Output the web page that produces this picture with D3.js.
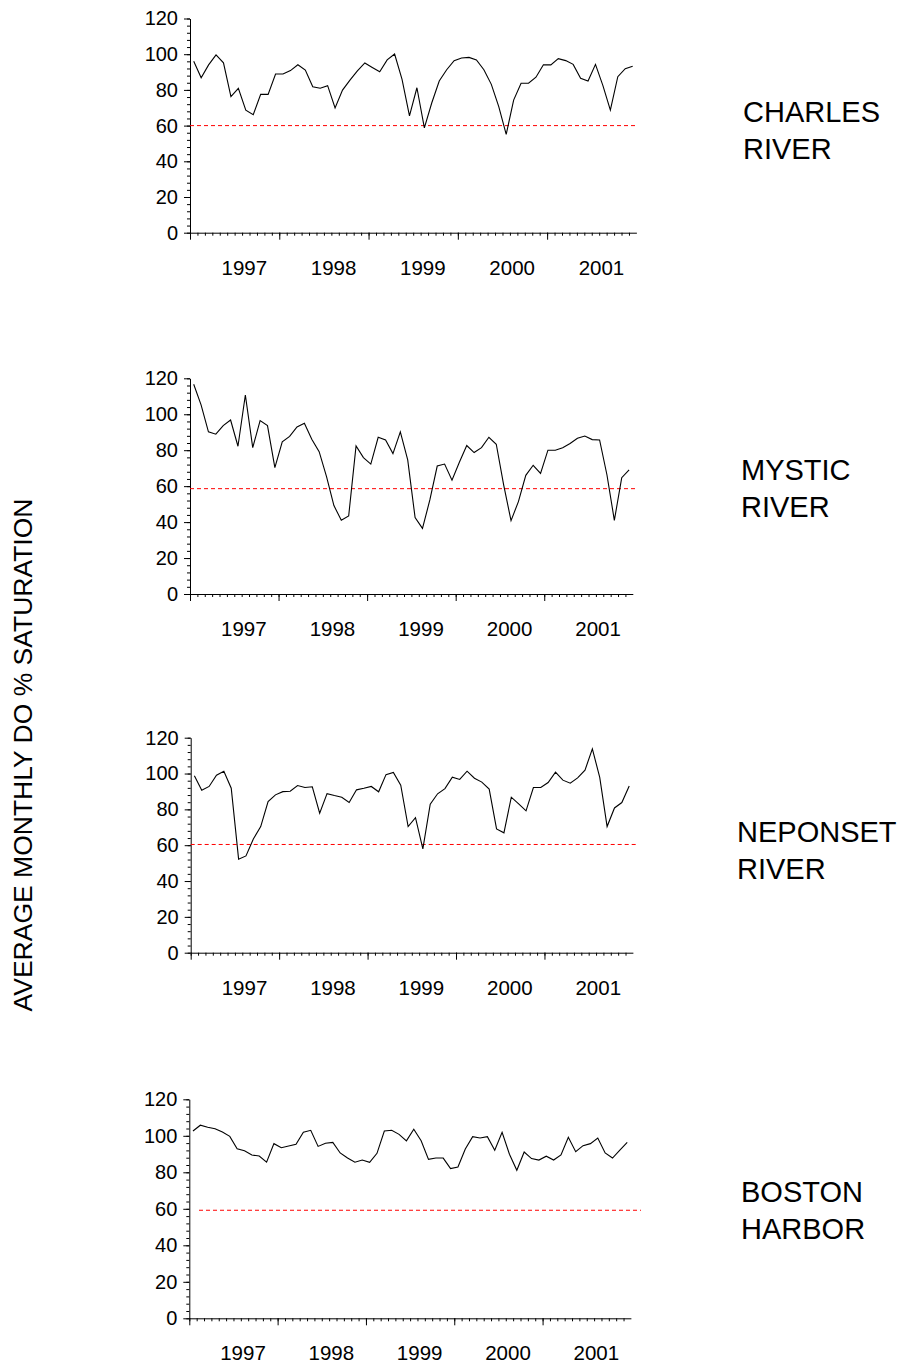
<!DOCTYPE html>
<html lang="en">
<head>
    <meta charset="UTF-8">
    <title>Average monthly DO % saturation</title>
    <script src="https://d3js.org/d3.v7.min.js"></script>
    <style>
        body { margin: 0; background: #fff; }
        svg { display: block; font-family: Arial, "Liberation Sans", sans-serif; }
    </style>
</head>
<body>
    <svg></svg>
    <script>
        const width = 909;
        const height = 1367;

        // monthly values, 60 months each
        const charles = [96.0, 86.8, 94.0, 99.6, 95.2, 76.2, 80.9, 68.6, 66.1, 77.5,
            77.5, 88.9, 88.9, 90.8, 94.1, 91.1, 81.8, 80.9, 82.4, 69.9,
            79.9, 85.5, 90.6, 95.1, 92.6, 90.2, 96.8, 100.1, 85.9, 65.5,
            81.2, 58.7, 72.8, 85.0, 91.3, 96.4, 97.9, 98.2, 96.8, 91.3,
            83.1, 70.6, 55.1, 74.3, 83.7, 83.7, 87.1, 94.1, 94.0, 97.5,
            96.4, 94.3, 86.5, 85.0, 94.3, 82.4, 68.7, 87.4, 91.9, 93.2];
        const mystic = [116.7, 105.2, 90.2, 88.9, 93.7, 96.8, 82.2, 110.7, 81.4, 96.5,
            93.7, 70.3, 84.6, 87.7, 92.9, 95.0, 86.1, 79.2, 65.3, 49.2,
            41.0, 43.4, 82.4, 75.9, 72.3, 87.2, 85.7, 78.1, 90.2, 74.6,
            42.5, 36.5, 52.3, 71.2, 72.3, 63.3, 73.3, 82.6, 78.7, 81.4,
            87.2, 83.3, 60.7, 40.8, 51.4, 66.0, 71.6, 67.1, 80.0, 80.0,
            81.4, 83.7, 86.6, 87.9, 85.9, 85.7, 66.2, 41.0, 64.7, 69.0];
        const neponset = [98.7, 90.7, 92.8, 99.1, 101.3, 91.8, 52.2, 54.0, 63.5, 70.4,
            84.4, 88.1, 89.9, 90.1, 93.3, 92.2, 92.6, 77.9, 88.8, 87.7,
            86.8, 83.8, 90.9, 91.8, 92.8, 89.8, 99.4, 100.6, 93.5, 70.4,
            75.4, 57.9, 82.9, 88.7, 91.6, 98.0, 96.7, 101.3, 97.4, 95.2,
            91.3, 69.1, 66.9, 86.8, 83.1, 79.2, 92.2, 92.2, 95.0, 100.8,
            96.3, 94.6, 97.6, 101.9, 113.8, 97.8, 70.4, 80.8, 83.8, 93.0];
        const boston = [102.6, 105.8, 104.7, 103.9, 102.1, 99.7, 92.9, 91.8, 89.5, 88.9,
            85.6, 95.7, 93.5, 94.4, 95.3, 101.9, 103.0, 94.2, 95.9, 96.4,
            90.6, 87.8, 85.5, 86.7, 85.5, 90.4, 102.6, 103.0, 100.8, 97.2,
            103.6, 97.3, 87.1, 87.8, 87.8, 82.0, 82.9, 92.8, 99.5, 98.8,
            99.5, 92.1, 101.9, 89.9, 81.1, 91.1, 87.5, 86.7, 88.8, 86.7,
            89.5, 99.2, 91.3, 94.6, 95.7, 98.8, 90.6, 87.8, 92.1, 96.4];

        // threshold lines as drawn in each panel
        const thresholds = [60.0, 58.6, 60.4, 59.2];
        const riverNames = [["CHARLES", "RIVER"], ["MYSTIC", "RIVER"], ["NEPONSET", "RIVER"], ["BOSTON", "HARBOR"]];
        const yearLabels = ["1997", "1998", "1999", "2000", "2001"];
        const yTicks = [0, 20, 40, 60, 80, 100, 120];
        const series = [charles, mystic, neponset, boston];

        // panel geometry: left edge, y of 0, y of 120, width of one month
        const panels = [
            { x0: 190,   yBot: 232.7,  yTop: 18.5,   mw: 7.44, lineEnd: 636, lineStart: 190, nameX: 743, nameY: 122 },
            { x0: 190,   yBot: 594,    yTop: 378.3,  mw: 7.38, lineEnd: 636, lineStart: 190, nameX: 741, nameY: 480 },
            { x0: 190.7, yBot: 952.7,  yTop: 737.7,  mw: 7.37, lineEnd: 636, lineStart: 190.7, nameX: 737, nameY: 842 },
            { x0: 189.3, yBot: 1318.3, yTop: 1099.3, mw: 7.36, lineEnd: 641, lineStart: 199, nameX: 741, nameY: 1202 }
        ];

        const svg = d3.select("svg")
            .attr("width", width)
            .attr("height", height);

        panels.forEach((p, k) => {
            const data = series[k];
            const x = d3.scaleLinear().domain([0, 60]).range([p.x0, p.x0 + 60 * p.mw]);
            const y = d3.scaleLinear().domain([0, 120]).range([p.yBot, p.yTop]);
            const g = svg.append("g");

            // y axis: labelled ticks every 20, minor every 4
            g.append("g")
                .attr("transform", `translate(${p.x0},0)`)
                .call(d3.axisLeft(y).tickValues(d3.range(0, 121, 4)).tickSize(3).tickFormat(""))
                .call(a => a.select(".domain").remove());
            g.append("g")
                .attr("transform", `translate(${p.x0},0)`)
                .call(d3.axisLeft(y).tickValues(yTicks).tickSize(6).tickSizeOuter(0).tickPadding(6))
                .call(a => a.selectAll("text").attr("font-size", 20).attr("fill", "#000"));

            // x axis: month ticks, year ticks every 12
            g.append("g")
                .attr("transform", `translate(0,${p.yBot})`)
                .call(d3.axisBottom(x).tickValues(d3.range(0, 60)).tickSize(3).tickSizeOuter(0).tickFormat(""));
            g.append("g")
                .attr("transform", `translate(0,${p.yBot})`)
                .call(d3.axisBottom(x).tickValues([0, 12, 24, 36, 48]).tickSize(7).tickFormat(""))
                .call(a => a.select(".domain").remove());

            g.selectAll(".year")
                .data(yearLabels)
                .join("text")
                .attr("class", "year")
                .attr("x", (d, i) => x(12 * i + 7.3))
                .attr("y", p.yBot + 42)
                .attr("text-anchor", "middle")
                .attr("font-size", 20.5)
                .text(d => d);

            g.selectAll("line, path.domain").attr("stroke", "#000");

            // threshold
            g.append("line")
                .attr("x1", p.lineStart)
                .attr("x2", p.lineEnd)
                .attr("y1", y(thresholds[k]))
                .attr("y2", y(thresholds[k]))
                .attr("stroke", "#ff0000")
                .attr("stroke-width", 1)
                .attr("stroke-dasharray", "4,3");

            g.append("path")
                .datum(data)
                .attr("fill", "none")
                .attr("stroke", "#000")
                .attr("stroke-width", 1.1)
                .attr("d", d3.line().x((d, i) => x(i + 0.5)).y(d => y(d)));

            g.selectAll(".name")
                .data(riverNames[k])
                .join("text")
                .attr("class", "name")
                .attr("x", p.nameX)
                .attr("y", (d, i) => p.nameY + i * 37)
                .attr("font-size", 29)
                .text(d => d);
        });

        svg.append("text")
            .attr("transform", "translate(32,755) rotate(-90)")
            .attr("text-anchor", "middle")
            .attr("font-size", 26.5)
            .text("AVERAGE MONTHLY DO % SATURATION");
    </script>
</body>
</html>
